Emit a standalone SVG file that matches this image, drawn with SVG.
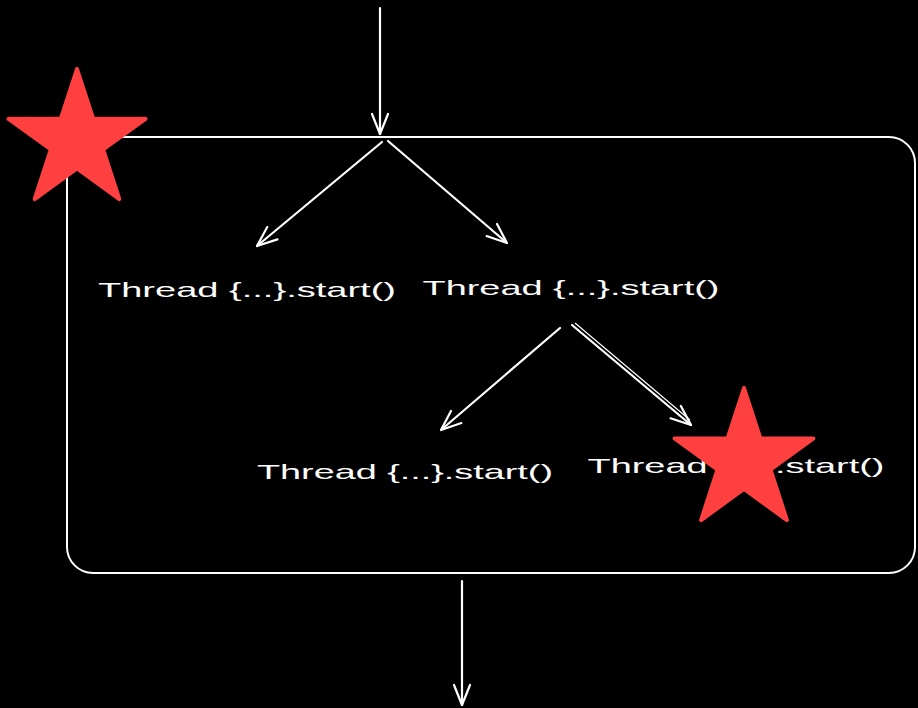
<svg xmlns="http://www.w3.org/2000/svg" width="918" height="708" viewBox="0 0 918 708">
  <defs>
    <marker id="head" markerUnits="userSpaceOnUse" markerWidth="40" markerHeight="40" viewBox="-30 -20 40 40" refX="0" refY="0" orient="auto">
      <path d="M-20,-8 L0,0 L-20,8" fill="none" stroke="#ffffff" stroke-width="2.2" stroke-linecap="round" stroke-linejoin="round"/>
    </marker>
    <style>
      .edge { fill: none; stroke: #ffffff; stroke-width: 2.2; stroke-linecap: round; marker-end: url(#head); }
      .frame { fill: none; stroke: #ffffff; stroke-width: 2; }
      .label { fill: #ffffff; font-family: "Liberation Sans", Arial, sans-serif; font-size: 21px; text-anchor: middle; }
      .star { fill: #ff4040; stroke: #ff4040; stroke-width: 4; stroke-linejoin: round; }
    </style>
  </defs>
  <rect width="918" height="708" fill="#000000"/>

  <!-- enclosing block -->
  <g id="block">
    <rect class="frame" x="67" y="137" width="848" height="436" rx="26" ry="26"/>
  </g>

  <!-- connectors -->
  <g id="connectors">
    <path class="edge" d="M380,8 L380,134"/>
    <path class="edge" d="M382,142 L257,246"/>
    <path class="edge" d="M388,141 L507,243"/>
    <path class="edge" d="M560,328 L441,430"/>
    <path class="edge" d="M572,325 L691,425"/>
    <path d="M575,323 L690,420" fill="none" stroke="#ffffff" stroke-width="1.2"/>
    <path class="edge" d="M462,581 L462,705"/>
  </g>

  <!-- thread nodes -->
  <g id="thread-a">
    <text class="label" x="247" y="297" textLength="298" lengthAdjust="spacingAndGlyphs">Thread {...}.start()</text>
  </g>
  <g id="thread-b">
    <text class="label" x="571" y="295" textLength="297" lengthAdjust="spacingAndGlyphs">Thread {...}.start()</text>
  </g>
  <g id="thread-c">
    <text class="label" x="405" y="479" textLength="296" lengthAdjust="spacingAndGlyphs">Thread {...}.start()</text>
  </g>
  <g id="thread-d">
    <text class="label" x="736" y="473" textLength="297" lengthAdjust="spacingAndGlyphs">Thread {...}.start()</text>
  </g>

  <!-- markers -->
  <g id="star-1">
    <polygon class="star" points="77,69 93.2,118.8 145.5,118.8 103.2,149.5 119.3,199.2 77,168.5 34.7,199.2 50.8,149.5 8.5,118.8 60.8,118.8"/>
  </g>
  <g id="star-2">
    <polygon class="star" points="744,388 760.4,438.4 813.4,438.4 770.5,469.6 786.9,520.1 744,488.9 701.1,520.1 717.5,469.6 674.6,438.4 727.6,438.4"/>
  </g>
</svg>
